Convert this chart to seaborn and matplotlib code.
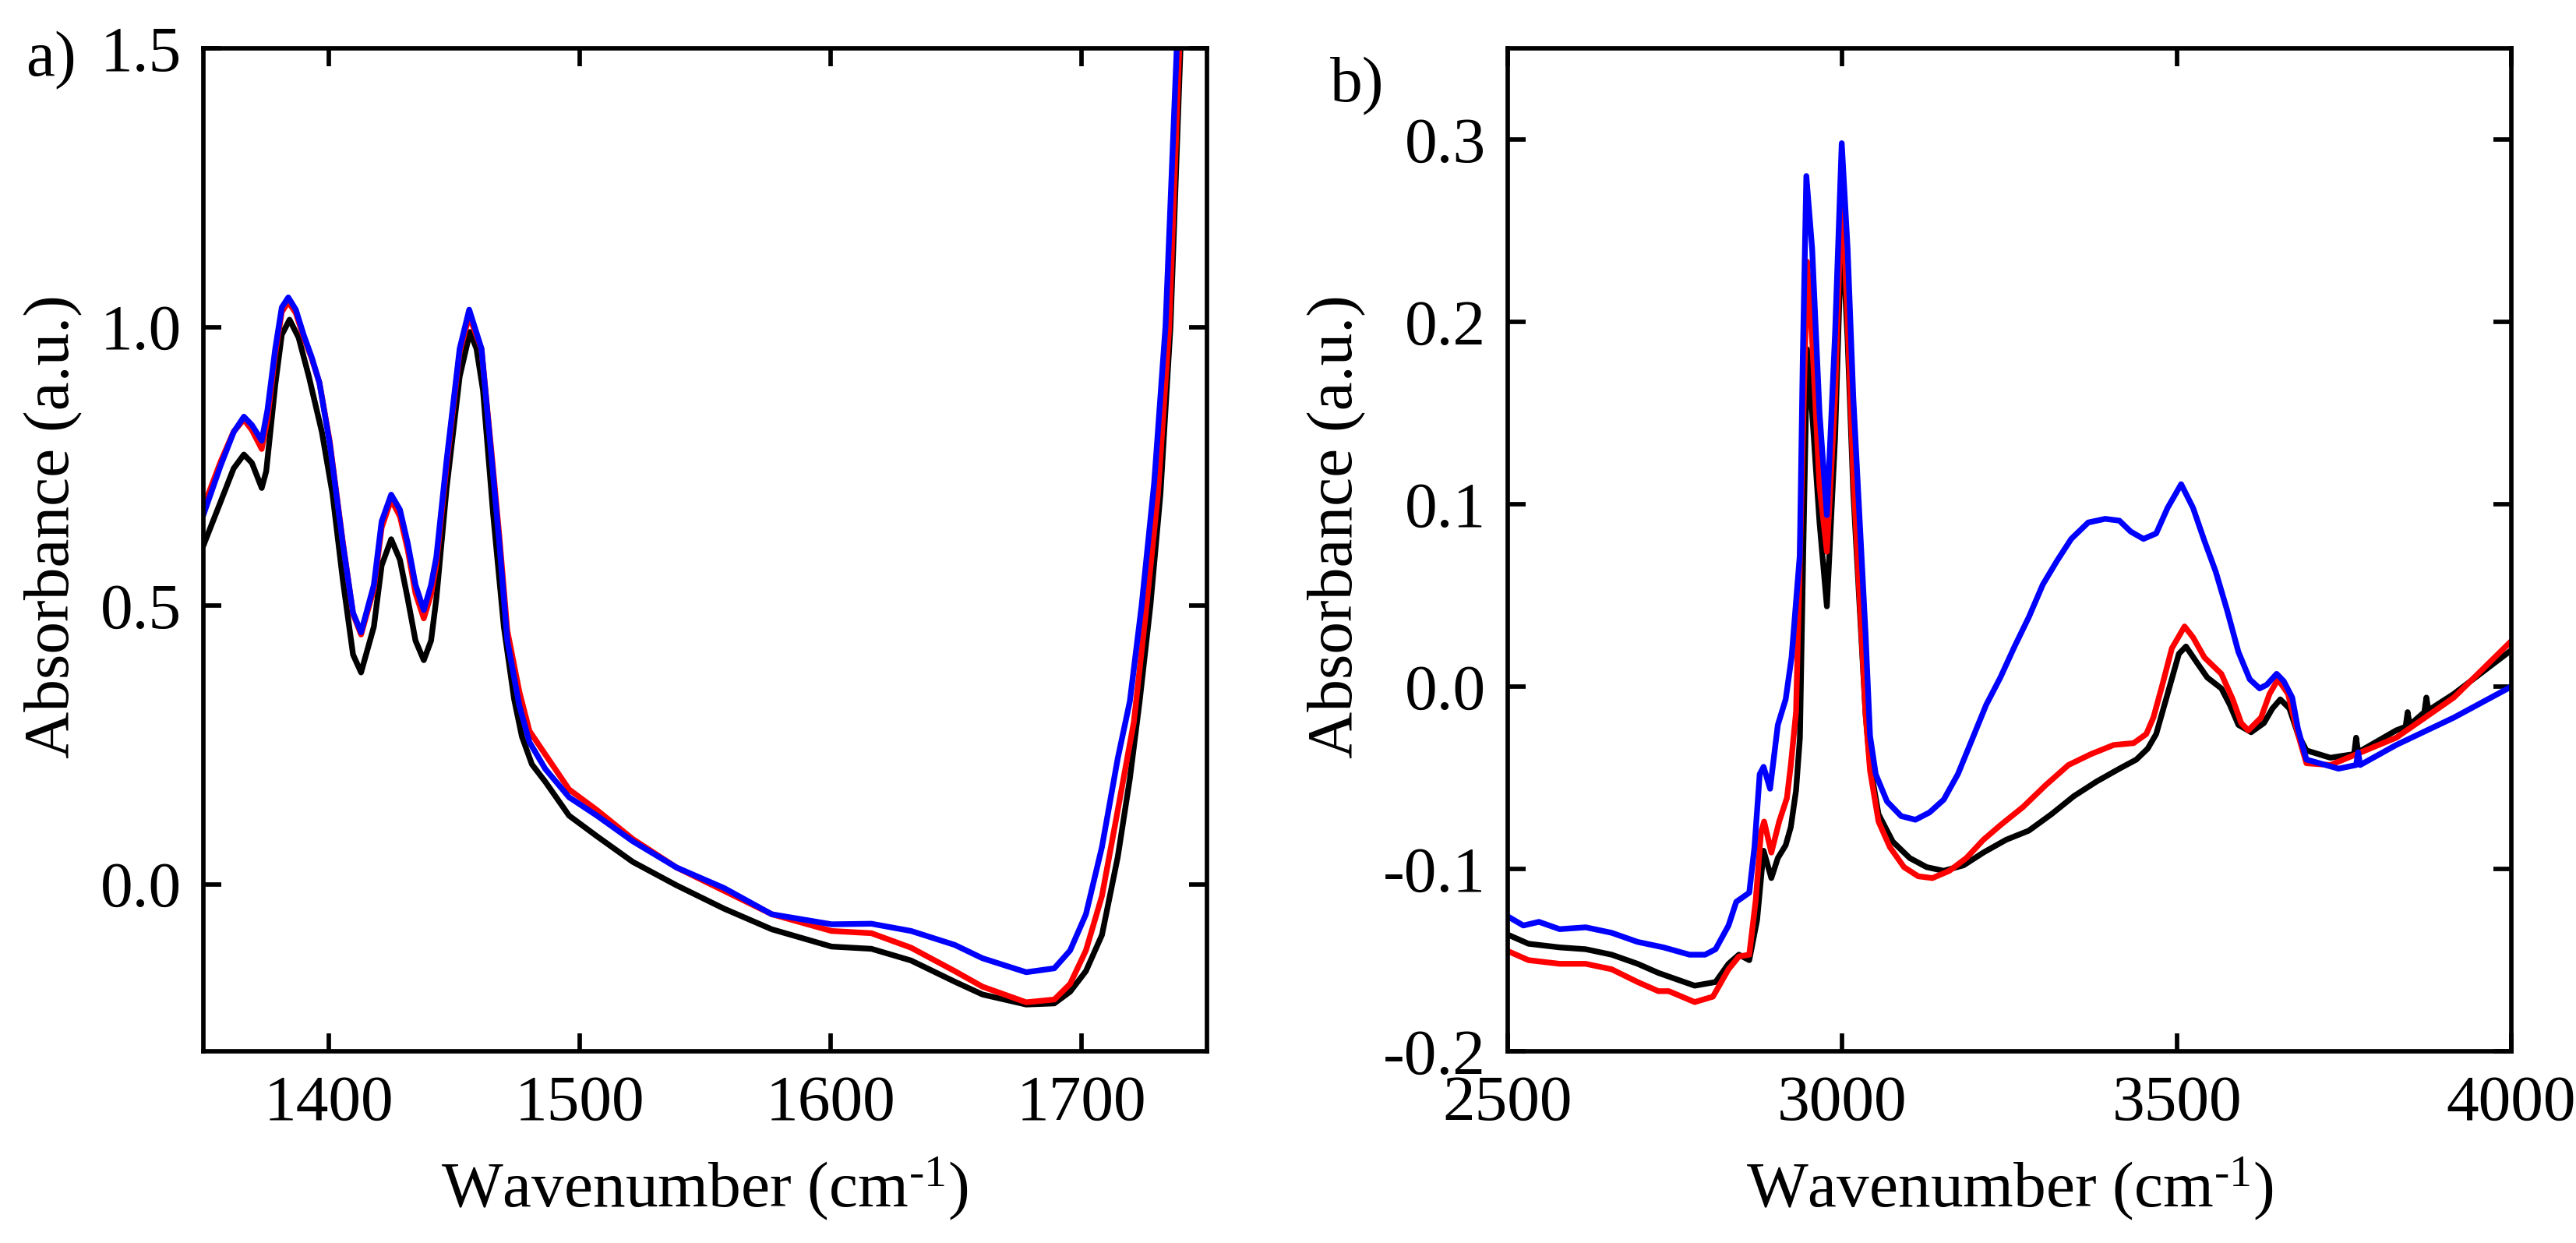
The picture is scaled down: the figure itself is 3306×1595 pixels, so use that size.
import matplotlib
matplotlib.use("Agg")
import matplotlib.pyplot as plt
from matplotlib.ticker import FormatStrFormatter
import seaborn as sns

sns.set_style("ticks")
plt.rcParams["font.family"] = ["Liberation Serif", "DejaVu Serif"]
plt.rcParams["mathtext.fontset"] = "custom"
plt.rcParams["mathtext.rm"] = "Liberation Serif"
plt.rcParams["mathtext.default"] = "regular"
plt.rcParams["axes.unicode_minus"] = False
plt.rcParams["text.color"] = "black"
plt.rcParams["axes.labelcolor"] = "black"

# ── panel a) 1350-1750 cm-1 ──────────────────────────────
wn_a_black = [1350, 1356.9, 1362.1, 1366.2, 1369.4, 1373.3, 1375.1, 1378.7, 1381.3, 1384.4,
              1388.0, 1392.1, 1397.3, 1401.5, 1405.6, 1409.7, 1412.9, 1418.0, 1421.1, 1424.9,
              1428.4, 1431.5, 1434.6, 1437.9, 1440.8, 1442.9, 1447.0, 1452.2, 1456.3, 1458.9,
              1461.5, 1465.6, 1469.8, 1473.9, 1477.0, 1481.0, 1486.3, 1495.8, 1506.9, 1521.2,
              1538.6, 1557.6, 1576.6, 1600.4, 1616.3, 1632.1, 1649.5, 1660.6, 1678.0, 1689.2,
              1695.5, 1701.8, 1708.2, 1714.5, 1719.3, 1723.2, 1727.5, 1731.5, 1735.5, 1739.5, 1741.5]
abs_a_black = [0.607, 0.686, 0.746, 0.771, 0.756, 0.711, 0.741, 0.896, 0.986, 1.013,
               0.981, 0.911, 0.811, 0.701, 0.547, 0.412, 0.380, 0.462, 0.572, 0.619,
               0.582, 0.512, 0.437, 0.402, 0.437, 0.512, 0.711, 0.911, 0.991, 0.961,
               0.886, 0.661, 0.462, 0.332, 0.265, 0.215, 0.184, 0.123, 0.086, 0.040,
               -0.002, -0.044, -0.081, -0.112, -0.116, -0.137, -0.175, -0.198, -0.216, -0.214,
               -0.193, -0.156, -0.091, 0.049, 0.189, 0.328, 0.50, 0.70, 1.0, 1.5, 1.8]

wn_a_red = [1350, 1356.9, 1362.1, 1366.2, 1369.4, 1373.3, 1375.6, 1378.7, 1381.3, 1383.9,
            1386.9, 1390.0, 1393.2, 1396.3, 1400.4, 1405.6, 1409.7, 1412.9, 1418.0, 1421.1,
            1424.9, 1428.4, 1431.5, 1434.6, 1437.9, 1440.8, 1442.9, 1447.0, 1452.2, 1456.0,
            1460.9, 1465.0, 1468.0, 1471.2, 1476.0, 1480.0, 1486.3, 1495.8, 1506.9, 1521.2,
            1538.6, 1557.6, 1576.6, 1600.4, 1616.3, 1632.1, 1649.5, 1660.6, 1678.0, 1689.2,
            1695.5, 1701.8, 1708.2, 1714.5, 1720.9, 1725.5, 1730.5, 1735.0, 1739.0, 1741.0]
abs_a_red = [0.676, 0.758, 0.812, 0.834, 0.815, 0.781, 0.835, 0.952, 1.027, 1.045,
             1.025, 0.982, 0.944, 0.900, 0.795, 0.615, 0.485, 0.448, 0.530, 0.640,
             0.690, 0.660, 0.600, 0.522, 0.477, 0.520, 0.575, 0.752, 0.955, 1.020,
             0.960, 0.770, 0.625, 0.455, 0.345, 0.275, 0.233, 0.170, 0.133, 0.081,
             0.030, -0.012, -0.054, -0.084, -0.088, -0.114, -0.156, -0.184, -0.212, -0.207,
             -0.179, -0.119, -0.021, 0.133, 0.291, 0.48, 0.70, 1.0, 1.5, 1.8]

wn_a_blue = [1350, 1356.9, 1362.1, 1366.2, 1369.4, 1373.3, 1375.6, 1378.7, 1381.3, 1383.9,
             1386.9, 1390.0, 1393.2, 1396.3, 1400.4, 1405.6, 1409.7, 1412.9, 1418.0, 1421.1,
             1424.9, 1428.4, 1431.5, 1434.6, 1437.9, 1440.8, 1442.9, 1447.0, 1452.2, 1456.0,
             1460.9, 1465.0, 1468.0, 1471.2, 1476.0, 1480.0, 1486.3, 1495.8, 1506.9, 1521.2,
             1538.6, 1557.6, 1576.6, 1600.4, 1616.3, 1632.1, 1649.5, 1660.6, 1678.0, 1689.2,
             1695.5, 1701.8, 1708.2, 1714.5, 1719.3, 1724.0, 1729.0, 1733.5, 1738.0, 1740.0]
abs_a_blue = [0.662, 0.751, 0.811, 0.839, 0.824, 0.796, 0.851, 0.961, 1.035, 1.053,
              1.031, 0.986, 0.946, 0.900, 0.791, 0.612, 0.487, 0.452, 0.537, 0.651,
              0.699, 0.672, 0.612, 0.537, 0.492, 0.537, 0.587, 0.761, 0.961, 1.031,
              0.961, 0.761, 0.612, 0.437, 0.320, 0.255, 0.207, 0.156, 0.123, 0.077,
              0.030, -0.007, -0.054, -0.072, -0.071, -0.084, -0.109, -0.133, -0.158, -0.151,
              -0.119, -0.054, 0.067, 0.226, 0.328, 0.50, 0.72, 1.0, 1.5, 1.8]

# ── panel b) 2500-4000 cm-1 ──────────────────────────────
wn_b_black = [2500, 2531, 2577.6, 2616.5, 2655.3, 2694.1, 2725.2, 2748.4, 2779.5, 2810.6,
              2830, 2845.5, 2861, 2872.7, 2882.4, 2894, 2903.7, 2915.4, 2923.1, 2930.9,
              2936.7, 2942, 2947.5, 2955, 2966, 2977, 2989.3, 2999.2, 3008, 3016.4,
              3034.8, 3041.5, 3054.2, 3075.4, 3100.8, 3126.2, 3151.6, 3181.3, 3210.9, 3244.8,
              3278.7, 3312.5, 3346.4, 3380.3, 3414.2, 3439.6, 3456.5, 3469.2, 3486.2, 3503.1,
              3513.7, 3528.5, 3545.5, 3566.6, 3579.3, 3592.1, 3611.1, 3630.2, 3642.9, 3654.7,
              3668.3, 3681, 3693.7, 3729.5, 3765, 3768, 3771, 3827.9, 3842, 3845,
              3848, 3870, 3873, 3876, 3914, 4000]
abs_b_black = [-0.136, -0.141, -0.143, -0.144, -0.147, -0.152, -0.157, -0.160, -0.164, -0.162,
               -0.152, -0.147, -0.150, -0.128, -0.090, -0.105, -0.094, -0.087, -0.077, -0.057,
               -0.028, 0.080, 0.185, 0.150, 0.090, 0.044, 0.137, 0.254, 0.190, 0.107,
               -0.015, -0.043, -0.070, -0.085, -0.094, -0.099, -0.101, -0.098, -0.091, -0.084,
               -0.079, -0.070, -0.060, -0.052, -0.045, -0.040, -0.034, -0.026, -0.004, 0.018,
               0.022, 0.014, 0.005, -0.001, -0.010, -0.021, -0.025, -0.020, -0.012, -0.007,
               -0.012, -0.026, -0.035, -0.039, -0.037, -0.028, -0.036, -0.024, -0.022, -0.014,
               -0.021, -0.014, -0.006, -0.013, -0.004, 0.020]

wn_b_red = [2500, 2531, 2577.6, 2616.5, 2655.3, 2694.1, 2725.2, 2740.7, 2779.5, 2806.7,
            2830, 2845.5, 2861, 2870.7, 2878.5, 2883.2, 2894, 2905.7, 2917.3, 2923.1,
            2930.9, 2938, 2947.5, 2955, 2966, 2977, 2989.3, 2999.2, 3008, 3016.4,
            3034.8, 3041.5, 3054.2, 3071.1, 3092.3, 3113.5, 3134.7, 3160.1, 3185.5, 3210.9,
            3236.3, 3270.2, 3304.1, 3338, 3371.8, 3405.7, 3435.4, 3454.4, 3465, 3477.7,
            3492.6, 3511.6, 3524.3, 3541.2, 3566.6, 3583.6, 3596.3, 3606.9, 3625.9, 3638.6,
            3651.3, 3666.2, 3681, 3693.7, 3729.5, 3827.9, 3914, 4000]
abs_b_red = [-0.145, -0.150, -0.152, -0.152, -0.155, -0.162, -0.167, -0.167, -0.173, -0.170,
             -0.155, -0.148, -0.147, -0.117, -0.080, -0.074, -0.091, -0.074, -0.061, -0.043,
             -0.014, 0.090, 0.233, 0.190, 0.110, 0.074, 0.159, 0.276, 0.200, 0.116,
             -0.015, -0.046, -0.074, -0.088, -0.099, -0.104, -0.105, -0.101, -0.094, -0.084,
             -0.076, -0.066, -0.054, -0.043, -0.037, -0.032, -0.031, -0.026, -0.017, 0.000,
             0.021, 0.033, 0.027, 0.016, 0.007, -0.007, -0.020, -0.024, -0.017, -0.004,
             0.004, -0.004, -0.026, -0.042, -0.043, -0.028, -0.006, 0.025]

wn_b_blue = [2500, 2523.3, 2546.6, 2577.6, 2616.5, 2655.3, 2694.1, 2732.9, 2771.7, 2795,
             2810.6, 2830, 2841.6, 2861, 2868.8, 2876.6, 2882.4, 2892.1, 2903.7, 2915.4,
             2924.2, 2936.5, 2941, 2946.3, 2955, 2966, 2977, 2989.3, 2999.2, 3008,
             3016.4, 3034.8, 3041.5, 3050, 3066.9, 3088, 3109.3, 3130.4, 3151.6, 3172.8,
             3194, 3215.1, 3236.3, 3257.5, 3278.7, 3299.8, 3321, 3342.2, 3367.6, 3393,
             3414.2, 3431.1, 3450.2, 3469.2, 3486.2, 3506.5, 3524.3, 3541.2, 3558.2, 3575.1,
             3592.1, 3609, 3623.8, 3634.4, 3649.2, 3659.8, 3672.5, 3681, 3693.7, 3741.8,
             3768, 3771, 3774, 3827.9, 3914, 4000]
abs_b_blue = [-0.126, -0.131, -0.129, -0.133, -0.132, -0.135, -0.140, -0.143, -0.147, -0.147,
              -0.144, -0.131, -0.118, -0.113, -0.088, -0.048, -0.044, -0.056, -0.021, -0.007,
              0.016, 0.072, 0.180, 0.280, 0.240, 0.150, 0.094, 0.194, 0.298, 0.240,
              0.159, 0.029, -0.027, -0.048, -0.063, -0.071, -0.073, -0.069, -0.062, -0.048,
              -0.029, -0.010, 0.005, 0.022, 0.038, 0.056, 0.069, 0.081, 0.090, 0.092,
              0.091, 0.085, 0.081, 0.084, 0.098, 0.111, 0.098, 0.080, 0.063, 0.042,
              0.019, 0.004, -0.001, 0.001, 0.007, 0.003, -0.006, -0.023, -0.040, -0.045,
              -0.043, -0.036, -0.043, -0.032, -0.017, 0.000]

COLORS = {"black": "#000000", "red": "#FF0000", "blue": "#0000FF"}
FS = 60


def draw_panel(ax, series):
    for x, y, c in series:
        sns.lineplot(x=x, y=y, color=COLORS[c], lw=5.3, estimator=None, sort=False,
                     legend=False, solid_joinstyle="round", ax=ax)


def style_axes(ax, xlim, ylim, xticks, yticks, ylabel_x):
    ax.set_xlim(*xlim)
    ax.set_ylim(*ylim)
    ax.set_xticks(xticks)
    ax.set_yticks(yticks)
    ax.yaxis.set_major_formatter(FormatStrFormatter("%.1f"))
    ax.tick_params(axis="both", which="major", direction="in", length=16.5, width=4.1,
                   top=True, right=True, labelsize=FS, colors="black")
    ax.tick_params(axis="x", pad=22)
    ax.tick_params(axis="y", pad=20)
    for sp in ax.spines.values():
        sp.set_linewidth(4.1)
        sp.set_color("black")
    ax.set_xlabel(r"Wavenumber (cm$^{\text{-}1}$)", fontsize=FS, color="black")
    ax.set_ylabel("Absorbance (a.u.)", fontsize=FS, color="black")
    ax.xaxis.set_label_coords(0.5, -0.104)
    ax.yaxis.set_label_coords(ylabel_x, 0.523)
    ax.grid(False)


fig = plt.figure(figsize=(33.06, 15.95), dpi=100)
ax_a = fig.add_axes([0.0789, 0.1542, 0.3896, 0.8069])
ax_b = fig.add_axes([0.5853, 0.1542, 0.3896, 0.8069])

draw_panel(ax_a, [(wn_a_black, abs_a_black, "black"),
                  (wn_a_red, abs_a_red, "red"),
                  (wn_a_blue, abs_a_blue, "blue")])
draw_panel(ax_b, [(wn_b_black, abs_b_black, "black"),
                  (wn_b_red, abs_b_red, "red"),
                  (wn_b_blue, abs_b_blue, "blue")])

style_axes(ax_a, (1350, 1750), (-0.3, 1.5), [1400, 1500, 1600, 1700],
           [0.0, 0.5, 1.0, 1.5], -0.120)
style_axes(ax_b, (2500, 4000), (-0.2, 0.35), [2500, 3000, 3500, 4000],
           [-0.2, -0.1, 0.0, 0.1, 0.2, 0.3], -0.141)

fig.text(33 / 3306, 1 - 40 / 1595, "a)", fontsize=FS, ha="left", va="top")
fig.text(1707 / 3306, 1 - 73 / 1595, "b)", fontsize=FS, ha="left", va="top")

fig.savefig("out.png", dpi=100)
plt.close(fig)
